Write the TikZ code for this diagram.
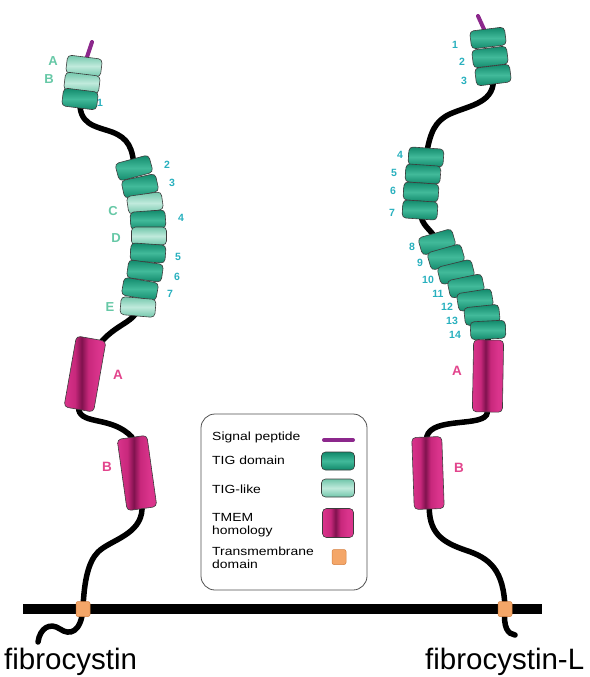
\documentclass[tikz,border=0pt]{standalone}
\usepackage{fontspec}
\setmainfont{Liberation Sans}
\usetikzlibrary{shapes.geometric,backgrounds}

\definecolor{tigdk}{RGB}{16,136,106}
\definecolor{tigmd}{RGB}{66,186,154}
\definecolor{likedk}{RGB}{112,198,170}
\definecolor{likemd}{RGB}{192,234,220}
\definecolor{tmpk}{RGB}{218,52,140}
\definecolor{tmpkb}{RGB}{200,40,124}
\definecolor{tmdk}{RGB}{128,18,78}
\definecolor{edgecol}{RGB}{60,60,60}
\definecolor{sigpur}{RGB}{140,40,140}
\definecolor{tmorange}{RGB}{244,166,104}
\definecolor{tmorangedk}{RGB}{214,128,64}
\definecolor{numcol}{RGB}{40,176,190}
\definecolor{letcol}{RGB}{102,200,166}
\definecolor{tmlabcol}{RGB}{226,68,140}
\definecolor{legedge}{RGB}{80,80,80}

% cylinder shading for the TMEM homology blocks: pink with a narrow dark core
\pgfdeclarehorizontalshading{tmemshade}{100bp}{
  color(0bp)=(tmpk); color(25bp)=(tmpk); color(38bp)=(tmpkb);
  color(46bp)=(tmdk); color(54bp)=(tmpkb); color(66bp)=(tmpk);
  color(75bp)=(tmpk); color(100bp)=(tmpk)}

\begin{document}
\begin{tikzpicture}[x=1pt,y=-1pt,
  tig/.style={draw=edgecol, line width=0.6pt, rounded corners=4pt,
    minimum width=35pt, minimum height=18pt, inner sep=0pt,
    top color=tigdk, bottom color=tigdk, middle color=tigmd},
  tiglike/.style={draw=edgecol, line width=0.6pt, rounded corners=4pt,
    minimum width=35pt, minimum height=18pt, inner sep=0pt,
    top color=likedk, bottom color=likedk, middle color=likemd},
  tmem/.style={draw=edgecol, line width=0.6pt, rounded corners=4pt,
    minimum width=30pt, minimum height=72pt, inner sep=0pt,
    shading=tmemshade},
  tmdom/.style={rounded corners=2pt,
    draw=tmorangedk, line width=0.5pt, fill=tmorange,
    minimum width=14pt, minimum height=15pt, inner sep=0pt},
  chain/.style={line width=5.5pt, black, line cap=round},
  sig/.style={line width=4pt, sigpur, line cap=round},
  num/.style={font=\bfseries\fontsize{10.5}{10.5}\selectfont, text=numcol, inner sep=0pt},
  dlet/.style={font=\bfseries\fontsize{13}{13}\selectfont, text=letcol, inner sep=0pt},
  tmlab/.style={font=\bfseries\fontsize{13.5}{13.5}\selectfont, text=tmlabcol, inner sep=0pt},
  legtxt/.style={font=\fontsize{11.8}{12.5}\selectfont, anchor=west, align=left,
    inner sep=0pt, xscale=1.18},
  protname/.style={font=\fontsize{29.5}{30}\selectfont, inner sep=0pt}
]
\useasboundingbox (0,0) rectangle (589,677);

% ---------- fibrocystin ----------
\node[tiglike, rotate=-7] (lA) at (84,66) {};
\node[tiglike, rotate=-7] (lB) at (82,83) {};
\node[tig,     rotate=-7] (l1) at (80,99) {};
\coordinate (sigL) at (92,42);

\node[tig,     rotate=15] (l2) at (134,168) {};
\node[tig,     rotate=12] (l3) at (140,186) {};
\node[tiglike, rotate=8]  (lC) at (145,203) {};
\node[tig,     rotate=4]  (l4) at (148,220) {};
\node[tiglike, rotate=0]  (lD) at (149,236) {};
\node[tig,     rotate=-4] (l5) at (148,253) {};
\node[tig,     rotate=-8] (l6) at (145,271) {};
\node[tig,     rotate=-10](l7) at (140,289) {};
\node[tiglike, rotate=-5] (lE) at (138,307) {};

\node[tmem, rotate=-10] (tAL) at (85,374) {};
\node[tmem, rotate=8]   (tBL) at (137,473) {};
\node[tmdom] (tmL) at (83,609) {};
\coordinate (endL) at (38,642);

% domain labels
\node[dlet] at (53,61) {A};
\node[dlet] at (49,79) {B};
\node[num]  at (100,103) {1};
\node[num]  at (167,165) {2};
\node[num]  at (172,183) {3};
\node[dlet] at (113,211) {C};
\node[num]  at (181,218) {4};
\node[dlet] at (116,238) {D};
\node[num]  at (178,257) {5};
\node[num]  at (177,277) {6};
\node[num]  at (170,294) {7};
\node[dlet] at (110,307) {E};
\node[tmlab] at (118,375) {A};
\node[tmlab] at (107,467) {B};

% ---------- fibrocystin-L ----------
\node[tig, rotate=7] (r1) at (488,38) {};
\node[tig, rotate=7] (r2) at (490,57) {};
\node[tig, rotate=7] (r3) at (493,75) {};
\coordinate (sigR) at (478,16);

\node[tig, rotate=-4] (r4) at (426,157) {};
\node[tig, rotate=-4] (r5) at (423,174) {};
\node[tig, rotate=-4] (r6) at (421,192) {};
\node[tig, rotate=-4] (r7) at (420,210) {};

\node[tig, rotate=16] (r8)  at (437,242) {};
\node[tig, rotate=16] (r9)  at (446,257) {};
\node[tig, rotate=14] (r10) at (456,272) {};
\node[tig, rotate=12] (r11) at (466,286) {};
\node[tig, rotate=9]  (r12) at (475,300) {};
\node[tig, rotate=6]  (r13) at (482,315) {};
\node[tig, rotate=3]  (r14) at (488,330) {};

\node[tmem, rotate=-1] (tAR) at (488,376) {};
\node[tmem, rotate=2]  (tBR) at (428,473) {};
\node[tmdom] (tmR) at (505,609) {};
\coordinate (endR) at (515,635);

\node[num] at (455,45) {1};
\node[num] at (462,62) {2};
\node[num] at (464,81) {3};
\node[num] at (400,155) {4};
\node[num] at (394,173) {5};
\node[num] at (393,191) {6};
\node[num] at (392,213) {7};
\node[num] at (412,247) {8};
\node[num] at (420,263) {9};
\node[num] at (428,280) {10};
\node[num] at (438,294) {11};
\node[num] at (447,307) {12};
\node[num] at (452,321) {13};
\node[num] at (455,335) {14};
\node[tmlab] at (457,371) {A};
\node[tmlab] at (459,468) {B};

% ---------- legend ----------
\node[draw=legedge, line width=0.8pt, rounded corners=14pt,
      minimum width=166pt, minimum height=176pt, inner sep=0pt] (leg) at (284,502) {};
\node[legtxt] (lt1) at (212,437) {Signal peptide};
\node[legtxt] (lt2) at (212,460) {TIG domain};
\node[legtxt] (lt3) at (212,489) {TIG-like};
\node[legtxt] (lt4) at (212,525) {TMEM\\homology};
\node[legtxt] (lt5) at (212,558) {Transmembrane\\domain};
\coordinate (lsigA) at (324,440);
\coordinate (lsigB) at (353,440);
\node[tig, minimum width=33pt, minimum height=18pt] (li2) at (338,461) {};
\node[tiglike, minimum width=33pt, minimum height=18pt] (li3) at (338,488) {};
\node[tmem, minimum width=31pt, minimum height=29pt] (li4) at (338,523) {};
\node[tmdom] (li5) at (339,557) {};
\draw[sig] (lsigA) -- (lsigB);

% ---------- names ----------
\node[protname, anchor=base west] (nL) at (4,669) {fibrocystin};
\node[protname, anchor=base west] (nR) at (425,669) {fibrocystin-L};

% ---------- chains and membrane ----------
\begin{pgfonlayer}{background}
  \coordinate (memL) at (23,609);
  \coordinate (memR) at (542,609);
  % fibrocystin chain
  \draw[sig] (lA.center) -- (sigL);
  \draw[chain] (l1.center) .. controls (78,125) and (95,126) .. (112,132)
               .. controls (128,138) and (133,148) .. (l2.center);
  \draw[chain] (lE.center) .. controls (135,328) and (100,322) .. (tAL.center);
  \draw[chain] (tAL.south) .. controls (82,425) and (112,416) .. (tBL.north);
  \draw[chain] (tBL.south) .. controls (141,535) and (110,540) .. (98,552)
               .. controls (88,562) and (84,582) .. (tmL.center);
  \draw[chain] (tmL.center) .. controls (81,632) and (70,636) .. (60,629)
               .. controls (50,622) and (40,628) .. (endL);
  % fibrocystin-L chain
  \draw[sig] (r1.center) -- (sigR);
  \draw[chain] (r3.center) .. controls (497,103) and (470,105) .. (450,114)
               .. controls (435,121) and (430,132) .. (r4.center);
  \draw[chain] (r7.center) .. controls (421,228) and (432,228) .. (r8.center);
  \draw[chain] (r14.center) -- (tAR.center);
  \draw[chain] (tAR.south) .. controls (486,428) and (432,416) .. (tBR.north);
  \draw[chain] (tBR.south) .. controls (430,535) and (445,543) .. (465,550)
               .. controls (490,558) and (504,570) .. (tmR.center);
  \draw[chain] (tmR.center) .. controls (503,628) and (508,634) .. (endR);
  % membrane
  \draw[line width=10pt, black] (memL) -- (memR);
\end{pgfonlayer}
\end{tikzpicture}
\end{document}
